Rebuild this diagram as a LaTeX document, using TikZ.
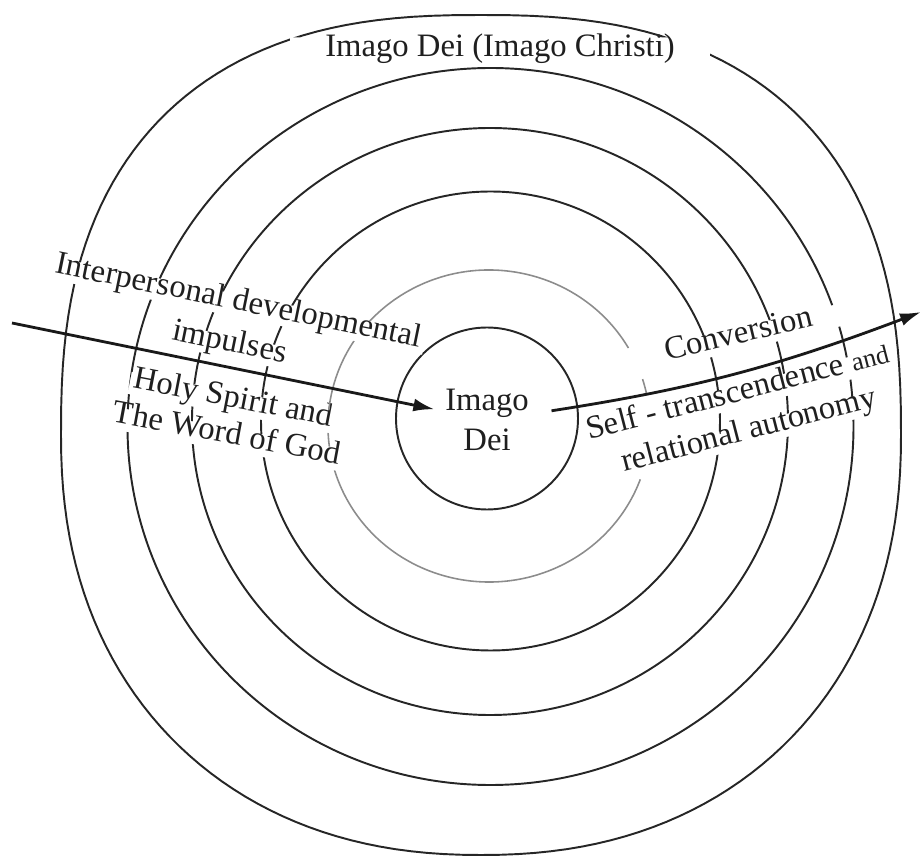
\documentclass[tikz,border=0pt]{standalone}
\usepackage{fontspec}
\setmainfont{Liberation Serif}
\usetikzlibrary{arrows.meta,calc}

\begin{document}
\begin{tikzpicture}[
  x=0.2mm,y=-0.2mm,
  >=Latex,
  ring/.style={draw=black!85,line width=1.1pt},
  faintring/.style={draw=black!45,line width=0.9pt},
  arr/.style={-{Latex[length=4.2mm,width=2.6mm]},draw=black!90,line width=1.6pt},
  lab/.style={font=\fontsize{18.6}{22.8}\selectfont,black!88,anchor=base,
    text height=0.68em,text depth=0.2em,inner xsep=2pt,inner ysep=1.8pt},
  corelab/.style={font=\fontsize{18.6}{22.8}\selectfont,black!88,align=center,inner sep=6pt}
]

\useasboundingbox (0,0) rectangle (923,856);

% ---------------- labels (placed on their baselines, picture pixels) ----------------
\node[lab,text height=1.0em,inner xsep=20pt,inner ysep=1pt]
  (title) at (500,57) {Imago Dei (Imago Christi)};

\node[lab,rotate=-11.5] (ipd) at (237,310) {Interpersonal developmental};
\node[lab,rotate=-11.5] (imp) at (228,351) {impulses};
\node[lab,rotate=-11]   (hs)  at (231.5,407) {Holy Spirit and};
\node[lab,rotate=-10.5] (wog) at (225,443) {The Word of God};

\node[lab,rotate=13.5,inner xsep=17pt] (conv) at (741,343) {Conversion};
\node[lab,rotate=14.5] (self) at (740,401)
  {Self - transcendence {\fontsize{15}{18}\selectfont and}};
\node[lab,rotate=14.5] (rel) at (751,439) {relational autonomy};

\node[corelab] (core) at (487,420) {Imago\\Dei};

% ---------------- concentric rings, broken where the labels sit ----------------
\begin{scope}[even odd rule]
\clip (0,0) rectangle (923,856)
  \foreach \lbl in {title,ipd,imp,hs,wog,conv,self,rel} {
    (\lbl.north west) -- (\lbl.north east) -- (\lbl.south east) -- (\lbl.south west) -- cycle};

\draw[ring] (487,418.5) circle[radius=91];
% second ring is fainter and open on the right
\draw[faintring] (489,426) ++(-30:161 and 156)
  arc[start angle=-30,end angle=-340,x radius=161,y radius=156];
\draw[faintring] (489,426) ++(-11.5:161 and 156)
  arc[start angle=-11.5,end angle=-17.5,x radius=161,y radius=156];
\draw[ring] (490.5,421) circle[radius=229.5];
\draw[ring] (490,421.5) ellipse[x radius=298,y radius=293.5];
\draw[ring] (490.5,426.5) ellipse[x radius=363,y radius=358.5];

% outer ring, squarer in its upper half
\draw[ring]
  plot[domain=0:180,samples=91]
    ({481+420*cos(\x)*pow(abs(cos(\x))+0.00001,-0.2)},
     {435-420*sin(\x)*pow(abs(sin(\x))+0.00001,-0.2)})
  -- plot[domain=180:360,samples=91]
    ({481+420*cos(\x)*pow(abs(cos(\x))+0.00001,-0.0909)},
     {435-420*sin(\x)*pow(abs(sin(\x))+0.00001,-0.0909)})
  -- cycle;
\end{scope}

% ---------------- the two arrows ----------------
\coordinate (inStart) at (12,323);
\coordinate (outEnd) at (921,312);

\draw[arr] (inStart) -- (core);
\draw[arr,shorten <=2.4mm] (core) to[bend right=6] (outEnd);

\end{tikzpicture}
\end{document}
